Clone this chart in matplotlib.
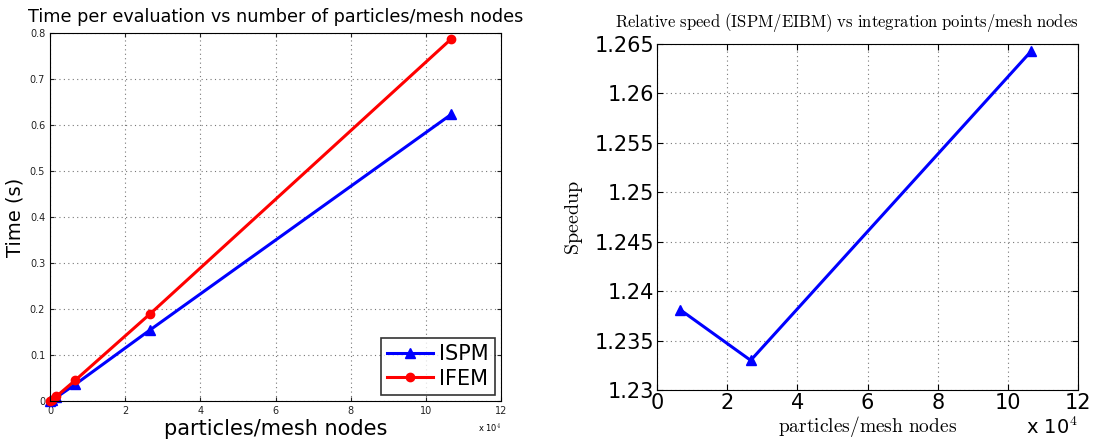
import matplotlib
matplotlib.use('Agg')
import matplotlib.pyplot as plt
from matplotlib.ticker import FuncFormatter

# data
nodes = [0, 400, 1700, 6700, 26700, 106700]
time_ispm = [0.0, 0.002, 0.008, 0.036, 0.155, 0.623]
time_ifem = [0.0, 0.003, 0.010, 0.045, 0.190, 0.787]

speed_nodes = [6700, 26700, 106700]
speedup = [1.2381, 1.2330, 1.2643]

plt.rcParams['mathtext.fontset'] = 'cm'

fig = plt.figure(figsize=(11.16, 4.41), dpi=100)

# ---- left panel: time per evaluation
ax1 = fig.add_axes([0.0448, 0.0907, 0.4042, 0.8343])
ax1.plot(nodes, time_ispm, color='#0000ff', linewidth=2.2, marker='^', markersize=7, label='ISPM', clip_on=False)
ax1.plot(nodes, time_ifem, color='#ff0000', linewidth=2.2, marker='o', markersize=6, label='IFEM', clip_on=False)
ax1.set_xlim(0, 120000)
ax1.set_ylim(0, 0.8)
ax1.set_xticks(range(0, 120001, 20000))
ax1.xaxis.set_major_formatter(FuncFormatter(lambda v, p: f'{v / 1e4:g}'))
ax1.set_yticks([0, 0.1, 0.2, 0.3, 0.4, 0.5, 0.6, 0.7, 0.8])
ax1.yaxis.set_major_formatter(FuncFormatter(lambda v, p: f'{v:g}'))
ax1.tick_params(direction='in', labelsize=7, length=3, top=True, right=True, colors='#222222')
ax1.grid(True, linestyle=(0, (1, 3)), color='#777777', linewidth=0.8)
ax1.set_xlabel('particles/mesh nodes', fontsize=15, labelpad=2)
ax1.set_ylabel('Time (s)', fontsize=14, labelpad=4)
ax1.set_title('Time per evaluation vs number of particles/mesh nodes', fontsize=12.7, pad=8)
ax1.text(1.0, -0.055, r'x 10$^4$', transform=ax1.transAxes, fontsize=6, ha='right', va='top')
leg = ax1.legend(loc='lower right', fontsize=15, frameon=True, fancybox=False, edgecolor='black',
                 handlelength=2.2, borderpad=0.3, labelspacing=0.2, handletextpad=0.3, borderaxespad=0.3)
leg.get_frame().set_linewidth(1.2)

# ---- right panel: speedup
ax2 = fig.add_axes([0.5887, 0.1156, 0.3773, 0.7846])
ax2.plot(speed_nodes, speedup, color='#0000ff', linewidth=2.2, marker='^', markersize=7, clip_on=False)
ax2.set_xlim(0, 120000)
ax2.set_ylim(1.23, 1.265)
ax2.set_xticks(range(0, 120001, 20000))
ax2.xaxis.set_major_formatter(FuncFormatter(lambda v, p: f'{v / 1e4:g}'))
ax2.set_yticks([1.23, 1.235, 1.24, 1.245, 1.25, 1.255, 1.26, 1.265])
ax2.yaxis.set_major_formatter(FuncFormatter(lambda v, p: f'{v:g}'))
ax2.tick_params(direction='in', labelsize=15, length=4, top=True, right=True, pad=2)
ax2.grid(True, linestyle=(0, (1, 3)), color='#777777', linewidth=0.8)
ax2.set_xlabel(r'$\mathrm{particles/mesh\ nodes}$', fontsize=14)
ax2.xaxis.set_label_coords(0.5, -0.068)
ax2.set_ylabel(r'$\mathrm{Speedup}$', fontsize=14.5)
ax2.yaxis.set_label_coords(-0.172, 0.5)
fig.text(847 / 1116, 1 - 22 / 441,
         r'$\mathrm{Relative\ speed\ (ISPM/EIBM)\ vs\ integration\ points/mesh\ nodes}$',
         fontsize=12, ha='center', va='center')
ax2.text(1.0, -0.128, r'x 10$^4$', transform=ax2.transAxes, fontsize=14, ha='right', va='baseline')

fig.savefig('out.png', dpi=100)
